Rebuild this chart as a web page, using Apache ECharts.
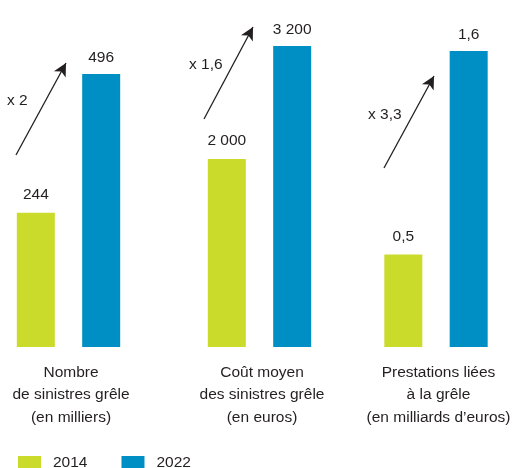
<!DOCTYPE html>
<html><head><meta charset="utf-8">
<script src="https://cdn.jsdelivr.net/npm/echarts@6/dist/echarts.min.js"></script>
<style>html,body{margin:0;padding:0;background:#fff}#c{width:512px;height:468px}</style>
</head><body><div id="c"></div>
<script>
var groups = ['Nombre\nde sinistres grêle\n(en milliers)', 'Coût moyen\ndes sinistres grêle\n(en euros)', 'Prestations liées\nà la grêle\n(en milliards d\u2019euros)'];
var values2014 = [244, 2000, 0.5];
var values2022 = [496, 3200, 1.6];
var labels2014 = ['244', '2 000', '0,5'];
var labels2022 = ['496', '3 200', '1,6'];
var ratioLabels = ['x 2', 'x 1,6', 'x 3,3'];
var axisMax = [558, 3264, 1.66];

var FONT = "'Liberation Sans',Arial,sans-serif";
var FS = 15.5;
var GREEN = '#cbdb2b', BLUE = '#008fc4', TXT = '#231f20';
var centers = [68.5, 259.5, 436];

var grids = [], xAxes = [], yAxes = [], series = [];
for (var i = 0; i < 3; i++) {
  grids.push({left: centers[i] - 60, width: 120, top: 40, bottom: 121, outerBoundsMode: 'none', containLabel: false});
  xAxes.push({type: 'category', gridIndex: i, data: [groups[i]],
    axisLine: {show: false}, axisTick: {show: false},
    axisLabel: {fontFamily: FONT, fontSize: FS, color: TXT, lineHeight: 22.5, margin: 14, interval: 0, align: 'center', padding: [0, 0, 0, 5]}});
  yAxes.push({type: 'value', gridIndex: i, min: 0, max: axisMax[i], show: false, splitLine: {show: false}});
  (function(idx){
    series.push({name: '2014', type: 'bar', xAxisIndex: idx, yAxisIndex: idx, data: [values2014[idx]],
      barWidth: 38, barGap: '72%', itemStyle: {color: GREEN},
      label: {show: true, position: 'top', distance: 10, fontFamily: FONT, fontSize: FS, color: TXT,
        formatter: function(){ return labels2014[idx]; }}});
    series.push({name: '2022', type: 'bar', xAxisIndex: idx, yAxisIndex: idx, data: [values2022[idx]],
      barWidth: 38, barGap: '72%', itemStyle: {color: BLUE},
      label: {show: true, position: 'top', distance: 8, fontFamily: FONT, fontSize: FS, color: TXT,
        formatter: function(){ return labels2022[idx]; }}});
  })(i);
}

// arrow annotations
var arrows = [[16, 155, 66, 63], [204, 119, 253, 27], [384, 168, 434, 76]];
var ratioPos = [[7, 102], [189, 66], [368, 116]];
series[0].markLine = {silent: true, symbol: ['none', 'arrow'], symbolSize: [10, 13],
  lineStyle: {color: '#231f20', width: 1.3, type: 'solid'}, label: {show: false},
  data: arrows.map(function(a){ return [{x: a[0], y: a[1]}, {x: a[2], y: a[3]}]; })};

var graphics = ratioLabels.map(function(t, i){
  return {type: 'text', left: ratioPos[i][0], top: ratioPos[i][1] - 9,
    style: {text: t, font: FS + 'px ' + FONT, fill: TXT}};
});

var chart = echarts.init(document.getElementById('c'), null, {renderer: 'canvas'});
chart.setOption({
  animation: false,
  grid: grids, xAxis: xAxes, yAxis: yAxes, series: series,
  legend: {data: ['2014', '2022'], left: 18, top: 455, padding: 0, itemWidth: 23, itemHeight: 14, itemGap: 34,
    icon: 'rect', textStyle: {fontFamily: FONT, fontSize: FS, color: TXT, padding: [0, 0, 0, 7]}},
  graphic: graphics
});
</script></body></html>
